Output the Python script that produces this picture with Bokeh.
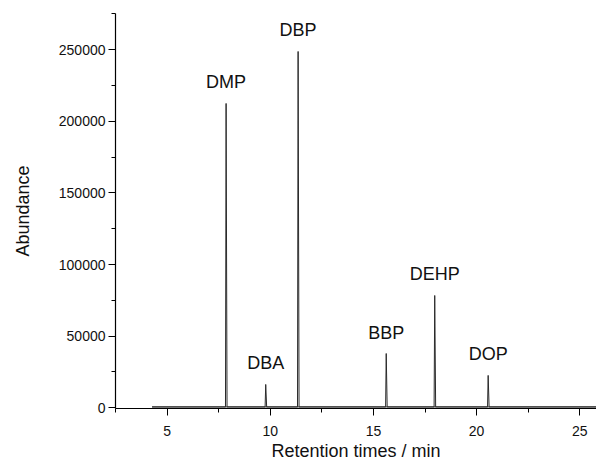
from bokeh.plotting import figure
from bokeh.models import SingleIntervalTicker, NumeralTickFormatter, Range1d
from bokeh.embed import file_html
from bokeh.resources import INLINE
from bokeh.core.properties import value

# ---- data ----
compounds = ["DMP", "DBA", "DBP", "BBP", "DEHP", "DOP"]
retention = [7.86, 9.78, 11.35, 15.62, 17.97, 20.56]      # min
abundance = [212500, 16300, 248800, 37900, 78400, 22600]   # peak tops
baseline_start = 4.27
baseline_end = 26.0
baseline_level = 600

FONT = value("Liberation Sans")

# chromatogram trace built from the peak list (narrow peaks on a flat baseline)
xs = [baseline_start]
ys = [baseline_level]
for t, h in zip(retention, abundance):
    xs += [t - 0.03, t, t + 0.045]
    ys += [baseline_level, h, baseline_level]
xs.append(baseline_end)
ys.append(baseline_level)

p = figure(width=596, height=463, output_backend="svg", toolbar_location=None,
           x_range=Range1d(2.5, 25.81), y_range=Range1d(-500, 275300),
           min_border_left=115, min_border_right=0, min_border_top=13, min_border_bottom=55)
p.outline_line_color = None
p.xgrid.visible = False
p.ygrid.visible = False
p.background_fill_color = "white"

p.line([baseline_start, baseline_end], [baseline_level, baseline_level],
       line_color="#8a8a8a", line_width=1.6)
p.line(xs, ys, line_color="#2a2a2a", line_width=1)

p.text(x=retention, y=abundance, text=compounds, y_offset=-11,
       text_align="center", text_baseline="bottom",
       text_font=FONT, text_font_size="18px", text_color="#111111")

for ax in (p.xaxis[0], p.yaxis[0]):
    ax.axis_line_color = "black"
    ax.axis_line_width = 1.2
    ax.major_tick_line_color = "black"
    ax.minor_tick_line_color = "black"
    ax.major_tick_in = 0
    ax.minor_tick_in = 0
    ax.major_tick_out = 7
    ax.minor_tick_out = 4
    ax.major_label_text_font = "Liberation Sans"
    ax.major_label_text_font_size = "14px"
    ax.major_label_text_color = "#111111"
    ax.axis_label_text_font = "Liberation Sans"
    ax.axis_label_text_font_size = "18px"
    ax.axis_label_text_font_style = "normal"
    ax.axis_label_text_color = "#111111"

p.xaxis.ticker = SingleIntervalTicker(interval=5, num_minor_ticks=2)
p.yaxis.ticker = SingleIntervalTicker(interval=50000, num_minor_ticks=2)
p.yaxis.formatter = NumeralTickFormatter(format="0")
p.xaxis.axis_label = "Retention times / min"
p.yaxis.axis_label = "Abundance"
p.xaxis.major_label_standoff = 10
p.yaxis.major_label_standoff = 3
p.xaxis.axis_label_standoff = 2
p.yaxis.axis_label_standoff = 23

open("out.html", "w").write(file_html(p, INLINE))
